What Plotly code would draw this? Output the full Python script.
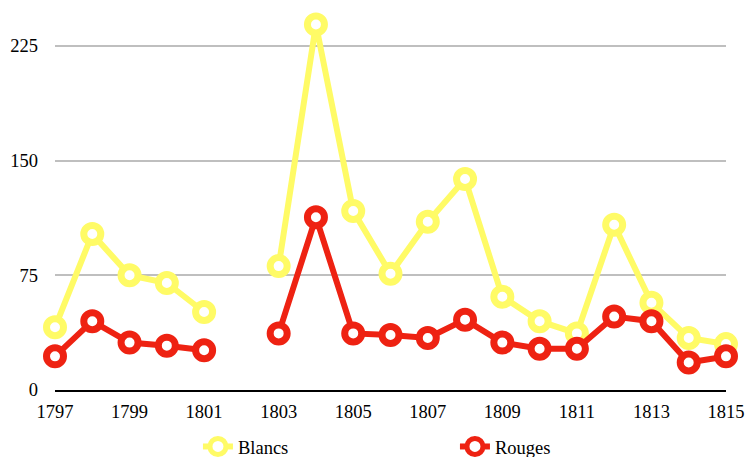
import plotly.graph_objects as go

# Annual volumes, 1797-1815 (no record for 1802)
years = list(range(1797, 1816))
blancs = [41, 102, 75, 70, 51, None, 81, 239, 117, 76, 110, 138, 61, 45, 37, 108, 57, 34, 30]
rouges = [22, 45, 31, 29, 26, None, 37, 113, 37, 36, 34, 46, 31, 27, 27, 48, 45, 18, 22]

y_ticks = [0, 75, 150, 225]
x_ticks = list(range(1797, 1816, 2))

YELLOW = "#FFFB66"
RED = "#EE2212"
SERIF = "Liberation Serif"
FS = 18.5

fig = go.Figure()
for name, vals, col in [("Blancs", blancs, YELLOW), ("Rouges", rouges, RED)]:
    fig.add_trace(go.Scatter(
        x=years, y=vals, name=name, mode="lines+markers",
        connectgaps=False, cliponaxis=False,
        line=dict(color=col, width=6),
        marker=dict(symbol="circle", size=17, color="white",
                    line=dict(color=col, width=7)),
    ))

fig.update_layout(
    width=747, height=457,
    margin=dict(l=55, r=21, t=0, b=67, autoexpand=False),
    paper_bgcolor="white", plot_bgcolor="white",
    font=dict(family=SERIF, size=FS, color="#000"),
    showlegend=True,
    legend=dict(orientation="h", xref="container", x=0.265, xanchor="left",
                yref="container", y=0.022, yanchor="middle",
                entrywidth=212, entrywidthmode="pixels",
                font=dict(family=SERIF, size=FS, color="#000"),
                bgcolor="rgba(0,0,0,0)"),
    xaxis=dict(range=[1797, 1815], tickvals=x_ticks, ticktext=[str(v) for v in x_ticks],
               tickfont=dict(family=SERIF, size=FS, color="#000"),
               showgrid=False, zeroline=False, showline=True, linecolor="#000",
               linewidth=1.5, ticks="", ticklen=0, ticklabelstandoff=4),
    yaxis=dict(range=[0, 255], tickvals=y_ticks, showgrid=True, gridcolor="#BFBFBF",
               tickfont=dict(family=SERIF, size=FS, color="#000"),
               gridwidth=1.5, zeroline=False, showline=False, ticks="",
               ticklabelstandoff=16),
)

fig.write_html("out.html")
